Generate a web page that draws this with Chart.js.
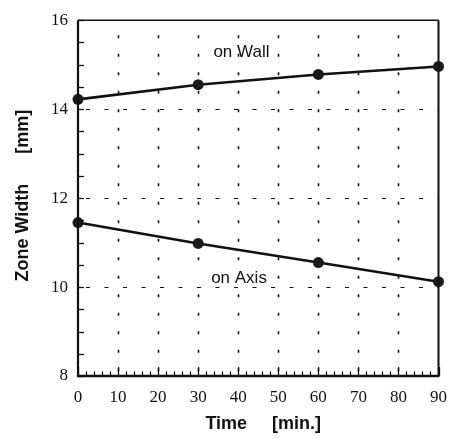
<!DOCTYPE html>
<html>
<head>
<meta charset="utf-8">
<script src="https://cdn.jsdelivr.net/npm/chart.js@4.4.1/dist/chart.umd.min.js"></script>
<style>
html,body{margin:0;padding:0;background:#fff;}
canvas{display:block;}
</style>
</head>
<body>
<canvas id="c" width="458" height="439"></canvas>
<script>
// ---- data ----
const timeMin = [0, 30, 60, 90];
const onWall = [14.22, 14.55, 14.78, 14.96];
const onAxis = [11.45, 10.98, 10.55, 10.12];
const xTicks = [0, 10, 20, 30, 40, 50, 60, 70, 80, 90];
const yTicks = [8, 10, 12, 14, 16];
const seriesLabels = ['on Wall', 'on Axis'];
const labelAnchors = [[40.8, 15.27], [40.2, 10.2]];
const dashedYLevels = [10, 12, 14];
const dottedXLevels = [10, 20, 30, 40, 50, 60, 70, 80];

const SANS = '"Liberation Sans", Arial, sans-serif';
const SERIF = '"Liberation Serif", "Times New Roman", serif';

const decor = {
  id: 'decor',
  beforeDatasetsDraw(chart) {
    const {ctx, chartArea: a, scales: {x, y}} = chart;
    ctx.save();
    ctx.strokeStyle = '#111';
    // dotted vertical grid
    ctx.lineWidth = 1.6;
    ctx.setLineDash([3, 15.5]);
    dottedXLevels.forEach(v => {
      const px = Math.round(x.getPixelForValue(v)) + 0.5;
      ctx.beginPath();
      ctx.moveTo(px, a.top + 15);
      ctx.lineTo(px, a.bottom);
      ctx.stroke();
    });
    // dashed horizontal grid
    ctx.lineWidth = 1.2;
    ctx.setLineDash([4, 14.5]);
    dashedYLevels.forEach(v => {
      const py = Math.round(y.getPixelForValue(v)) + 0.5;
      ctx.beginPath();
      ctx.moveTo(a.left + 8, py);
      ctx.lineTo(a.right, py);
      ctx.stroke();
    });
    ctx.setLineDash([]);
    // white box behind the lower label
    ctx.fillStyle = '#fff';
    ctx.font = '17px ' + SANS;
    seriesLabels.forEach((t, i) => {
      const px = x.getPixelForValue(labelAnchors[i][0]);
      const py = y.getPixelForValue(labelAnchors[i][1]);
      const w = ctx.measureText(t).width;
      if (i === 1) ctx.fillRect(px - w / 2 - 18, py - 9, w + 24, 14);
    });
    ctx.restore();
  },
  afterDatasetsDraw(chart) {
    const {ctx, chartArea: a, scales: {x, y}} = chart;
    ctx.save();
    ctx.strokeStyle = '#111';
    // minor ticks on x (every 2), major every 10
    ctx.lineWidth = 1.3;
    for (let v = 0; v <= 90; v += 2) {
      const px = Math.round(x.getPixelForValue(v)) + 0.5;
      const len = (v % 10 === 0) ? 9 : 4.5;
      ctx.beginPath();
      ctx.moveTo(px, a.bottom);
      ctx.lineTo(px, a.bottom - len);
      ctx.stroke();
    }
    // minor ticks on y every 0.5
    for (let v = 8; v <= 16; v += 0.5) {
      const py = Math.round(y.getPixelForValue(v)) + 0.5;
      ctx.beginPath();
      ctx.moveTo(a.left, py);
      ctx.lineTo(a.left + 6, py);
      ctx.stroke();
    }
    // frame
    ctx.lineWidth = 1.5;
    ctx.beginPath();
    ctx.moveTo(a.left, a.top); ctx.lineTo(a.right, a.top);
    ctx.stroke();
    ctx.lineWidth = 2;
    ctx.beginPath();
    ctx.moveTo(a.right, a.top); ctx.lineTo(a.right, a.bottom);
    ctx.stroke();
    ctx.lineWidth = 2.2;
    ctx.beginPath();
    ctx.moveTo(a.left, a.top); ctx.lineTo(a.left, a.bottom);
    ctx.stroke();
    ctx.lineWidth = 2.6;
    ctx.beginPath();
    ctx.moveTo(a.left - 1, a.bottom); ctx.lineTo(a.right + 1, a.bottom);
    ctx.stroke();
    // labels
    ctx.fillStyle = '#111';
    ctx.font = '17px ' + SANS;
    ctx.textAlign = 'center';
    ctx.textBaseline = 'middle';
    seriesLabels.forEach((t, i) => {
      ctx.fillText(t, x.getPixelForValue(labelAnchors[i][0]), y.getPixelForValue(labelAnchors[i][1]));
    });
    ctx.restore();
  }
};

const pts = arr => timeMin.map((t, i) => ({x: t, y: arr[i]}));
const dsStyle = {
  borderColor: '#111', backgroundColor: '#1a1a1a', borderWidth: 2.6,
  pointRadius: 5.5, pointBorderWidth: 0, pointBackgroundColor: '#1a1a1a',
  clip: false, tension: 0, showLine: true
};

new Chart(document.getElementById('c'), {
  type: 'scatter',
  data: {
    datasets: [
      Object.assign({label: seriesLabels[0], data: pts(onWall)}, dsStyle),
      Object.assign({label: seriesLabels[1], data: pts(onAxis)}, dsStyle)
    ]
  },
  options: {
    responsive: false,
    animation: false,
    devicePixelRatio: 1,
    layout: {padding: {top: 16, right: 18, left: 0, bottom: 0}},
    plugins: {legend: {display: false}, tooltip: {enabled: false}},
    scales: {
      x: {
        type: 'linear', min: 0, max: 90,
        afterBuildTicks: s => { s.ticks = xTicks.map(v => ({value: v})); },
        afterFit: s => { s.height = 63; },
        grid: {display: false, drawTicks: false},
        border: {display: false},
        ticks: {color: '#111', font: {family: SERIF, size: 17}, padding: 11, maxRotation: 0, autoSkip: false},
        title: {display: true, text: '  Time     [min.]', color: '#111',
                font: {family: SANS, size: 18, weight: 'bold'}, padding: {top: 0, bottom: 4}}
      },
      y: {
        type: 'linear', min: 8, max: 16,
        afterBuildTicks: s => { s.ticks = yTicks.map(v => ({value: v})); },
        afterFit: s => { s.width = 78; },
        grid: {display: false, drawTicks: false},
        border: {display: false},
        ticks: {color: '#111', font: {family: SERIF, size: 17}, padding: 10},
        title: {display: true, text: ' Zone Width      [mm]', color: '#111',
                font: {family: SANS, size: 18, weight: 'bold'}, padding: {top: 12, bottom: 0}}
      }
    }
  },
  plugins: [decor]
});
</script>
</body>
</html>
